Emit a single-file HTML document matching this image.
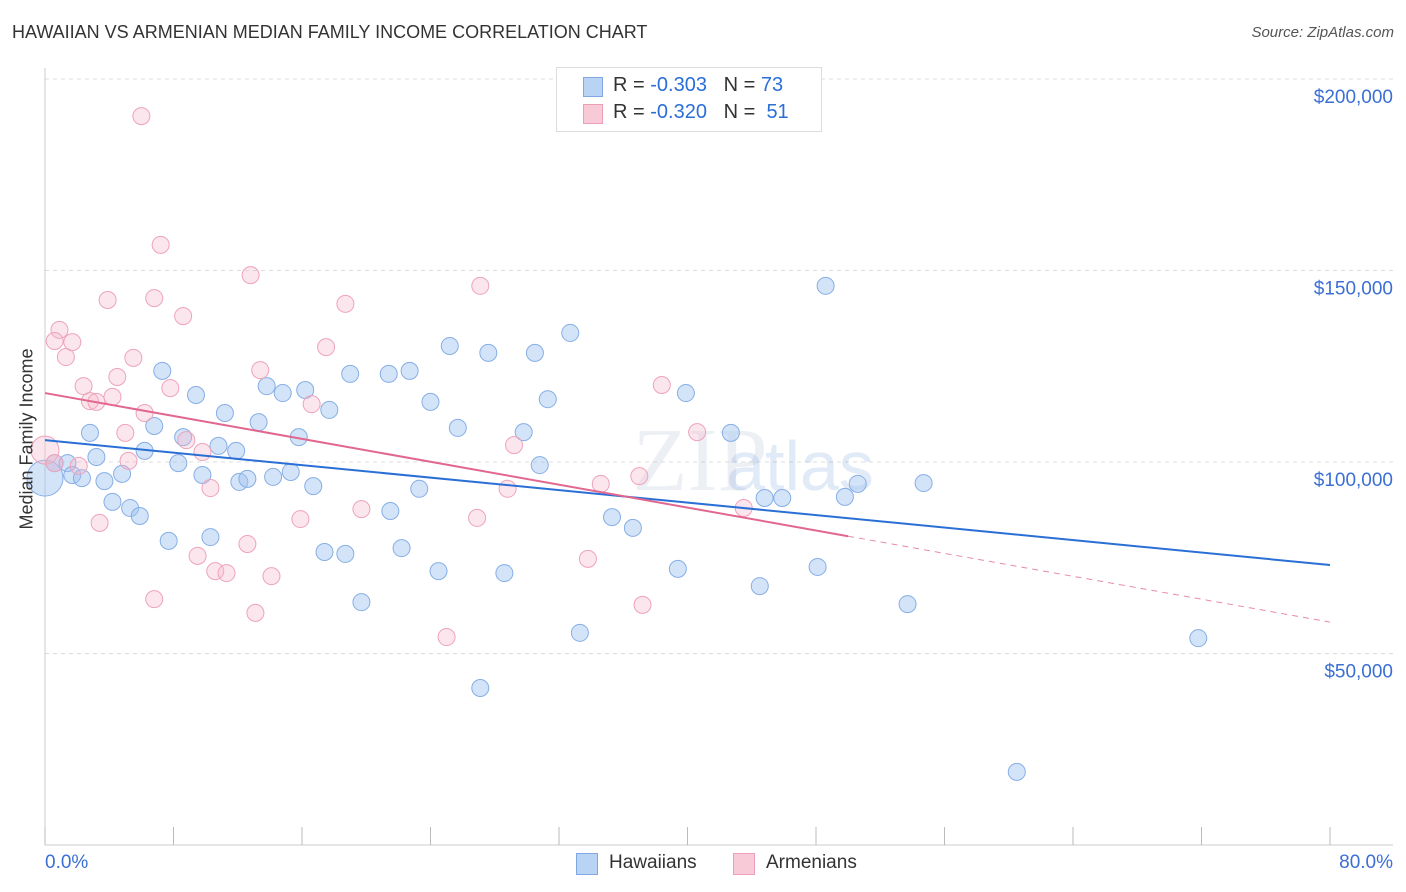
<!DOCTYPE html>
<html><head><meta charset="utf-8">
<style>
body{margin:0;background:#fff;font-family:"Liberation Sans",sans-serif;}
#wrap{position:relative;width:1406px;height:892px;overflow:hidden;}
.t{position:absolute;white-space:nowrap;}
</style></head><body>
<div id="wrap">
<div class="t" style="left:12px;top:22px;font-size:18px;color:#333;">HAWAIIAN VS ARMENIAN MEDIAN FAMILY INCOME CORRELATION CHART</div>
<div class="t" style="right:12px;top:24px;font-size:15px;color:#555;font-style:italic;">Source: ZipAtlas.com</div>
<svg id="svg" width="1406" height="892" style="position:absolute;left:0;top:0"></svg>
</div>
<script>
const blueX=[0.0,0.6,1.4,1.7,2.3,2.8,3.2,3.7,4.2,4.8,5.3,5.9,6.2,6.8,7.3,7.7,8.3,8.6,9.4,9.8,10.3,10.8,11.2,11.9,12.1,12.6,13.3,13.8,14.2,14.8,15.3,15.8,16.2,16.7,17.4,17.7,18.7,19.0,19.7,21.4,21.5,22.2,22.7,23.3,24.0,24.5,25.2,25.7,27.6,28.6,29.8,30.5,30.8,31.3,32.7,33.3,35.3,36.6,39.4,39.9,42.7,44.5,44.8,45.9,48.1,48.6,49.8,50.6,53.7,54.7,60.5,71.8,27.1];
const blueY=[95.8,99.7,99.7,96.6,95.8,107.6,101.3,95.0,89.6,96.9,88.0,85.9,102.9,109.4,123.8,79.4,99.7,106.5,117.5,96.6,80.4,104.2,112.8,102.9,94.8,95.6,110.4,119.8,96.1,118.0,97.4,106.5,118.8,93.7,76.5,113.6,76.0,123.0,63.4,123.0,87.2,77.5,123.8,93.0,115.7,71.5,130.3,108.9,128.5,71.0,107.8,128.5,99.2,116.4,133.7,55.4,85.6,82.8,72.1,118.0,107.6,67.6,90.6,90.6,72.6,146.0,90.9,94.3,62.9,94.5,19.1,54.0,41.0];
const pinkX=[0.0,0.6,0.9,0.6,1.3,1.7,2.1,2.4,2.8,3.2,3.4,3.9,4.2,4.5,5.0,5.2,5.5,6.2,6.0,6.8,6.8,7.2,7.8,8.6,8.8,9.5,9.8,10.3,10.6,11.3,12.6,12.8,13.1,13.4,14.1,15.9,16.6,17.5,18.7,19.7,25.0,26.9,27.1,28.8,29.2,33.8,34.6,37.0,37.2,38.4,40.6,43.5];
const pinkY=[103.1,99.7,134.5,131.6,127.4,131.3,99.0,119.8,115.9,115.7,84.1,142.3,117.0,122.2,107.6,100.3,127.2,112.8,190.3,64.2,142.8,156.7,119.3,138.1,105.7,75.5,102.6,93.2,71.5,71.0,78.6,148.8,60.6,124.0,70.2,85.1,115.1,130.0,141.3,87.7,54.3,85.4,146.0,93.0,104.4,74.7,94.3,96.3,62.7,120.1,107.8,88.0];
const blueTrend=[105.7,73.1];
const pinkTrend=[118.0,58.2];
const pinkSolidEnd=50;
const yTicks=[50,100,150,200];
const yTickLabels=["$50,000","$100,000","$150,000","$200,000"];
const xTicks=[0,8,16,24,32,40,48,56,64,72,80];

const X=v=>45+v/80*1285;
const Y=v=>462-(v-100)*191.5/50;
const svg=document.getElementById('svg');
const NS='http://www.w3.org/2000/svg';
function mk(tag,a){const e=document.createElementNS(NS,tag);for(const k in a)e.setAttribute(k,a[k]);svg.appendChild(e);return e;}

yTicks.forEach((v,i)=>{
  const g=mk('line',{x1:45,x2:1393,y1:Y(v),y2:Y(v),stroke:'#dcdcdc','stroke-dasharray':'4,4'});
  
  
  const t=mk('text',{x:1393,y:Y(v)+24,'text-anchor':'end','font-size':19,fill:'#3b6fd4','font-family':'Liberation Sans, sans-serif'});
  t.textContent=yTickLabels[i];
  
  
});
const ax=mk('line',{x1:45,x2:1393,y1:845,y2:845,stroke:'#ccc'});


const ay=mk('line',{x1:45,x2:45,y1:68,y2:845,stroke:'#ccc'});


xTicks.forEach(v=>{
  const l=mk('line',{x1:X(v),x2:X(v),y1:827,y2:845,stroke:'#bbb'});
  
  
});
const wm=mk('text',{x:700,y:490,'text-anchor':'middle','font-size':90,fill:'rgba(180,195,215,0.25)','font-family':'Liberation Serif, serif'});
wm.textContent='ZIP';


const wm2=mk('text',{x:800,y:490,'text-anchor':'middle','font-size':70,fill:'rgba(120,160,220,0.22)','font-family':'Liberation Sans, sans-serif'});
wm2.setAttribute('x',800);
wm2.textContent='atlas';



blueX.forEach((x,i)=>{
  const c=mk('circle',{cx:X(x),cy:Y(blueY[i]),r:i===0?18:8.5,fill:'rgba(160,196,240,0.45)',stroke:'#86aee6','stroke-width':1});
  
  
});
pinkX.forEach((x,i)=>{
  const c=mk('circle',{cx:X(x),cy:Y(pinkY[i]),r:i===0?14:8.5,fill:'rgba(246,184,204,0.35)',stroke:'#eea3bb','stroke-width':1});
  
  
});
const bl=mk('line',{x1:X(0),y1:Y(blueTrend[0]),x2:X(80),y2:Y(blueTrend[1]),stroke:'#2a6fd6','stroke-width':2});


const pAt=x=>pinkTrend[0]+(pinkTrend[1]-pinkTrend[0])*x/80;
const pl=mk('line',{x1:X(0),y1:Y(pAt(0)),x2:X(pinkSolidEnd),y2:Y(pAt(pinkSolidEnd)),stroke:'#e2678f','stroke-width':2});


const pd=mk('line',{x1:X(pinkSolidEnd),y1:Y(pAt(pinkSolidEnd)),x2:X(80),y2:Y(pAt(80)),stroke:'#e88aa8','stroke-width':1,'stroke-dasharray':'6,5'});


</script>
<div class="t" style="left:-48px;top:444px;font-size:18px;color:#333;transform:rotate(-90deg);transform-origin:center;width:150px;text-align:center;">Median Family Income</div>
<div class="t" style="left:45px;top:852px;font-size:19px;color:#3b6fd4;">0.0%</div>
<div class="t" style="right:13px;top:852px;font-size:19px;color:#3b6fd4;">80.0%</div>
<div style="position:absolute;left:556px;top:67px;width:264px;height:63px;border:1px solid #ddd;background:#fff;font-size:20px;color:#333;">
 <div style="position:absolute;left:26px;top:9px;width:18px;height:18px;background:#b9d3f5;border:1px solid #7fa8e3;"></div>
 <div class="t" style="left:56px;top:6px;">R = <span style="color:#2a6fd6">-0.303</span>&nbsp;&nbsp;&nbsp;N = <span style="color:#2a6fd6">73</span></div>
 <div style="position:absolute;left:26px;top:36px;width:18px;height:18px;background:#f8c9d7;border:1px solid #ec9fb7;"></div>
 <div class="t" style="left:56px;top:33px;">R = <span style="color:#2a6fd6">-0.320</span>&nbsp;&nbsp;&nbsp;N = &nbsp;<span style="color:#2a6fd6">51</span></div>
</div>
<div style="position:absolute;left:576px;top:852px;font-size:19px;color:#333;">
 <div style="position:absolute;left:0;top:0;width:150px;">
  <div style="position:absolute;left:0;top:1px;width:20px;height:20px;background:#b9d3f5;border:1px solid #7fa8e3;"></div>
  <span class="t" style="left:33px;top:0;">Hawaiians</span></div>
 <div style="position:absolute;left:157px;top:0;width:150px;">
  <div style="position:absolute;left:0;top:1px;width:20px;height:20px;background:#f8c9d7;border:1px solid #ec9fb7;"></div>
  <span class="t" style="left:33px;top:0;">Armenians</span></div>
</div>
</body></html>
